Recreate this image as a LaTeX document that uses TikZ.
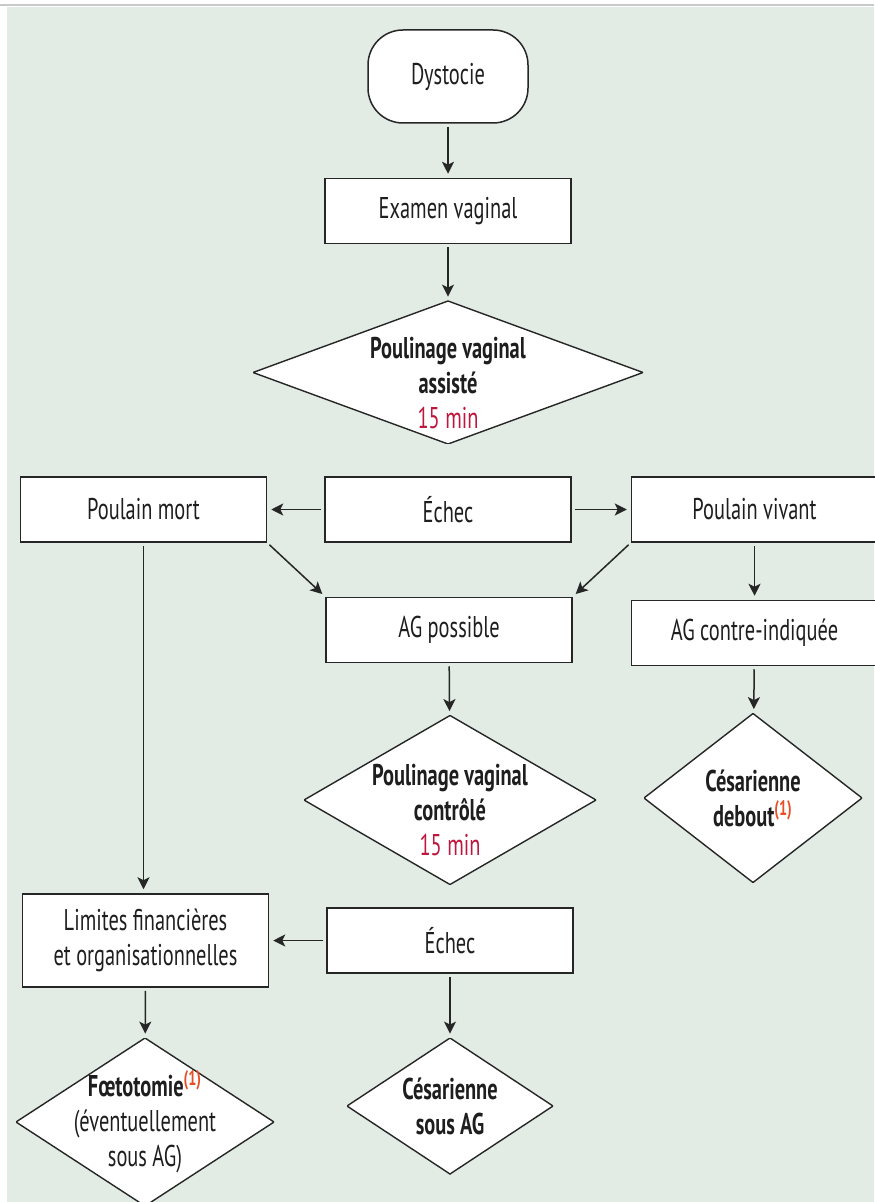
\documentclass[tikz,border=0pt]{standalone}
\usepackage{fontspec}
\setmainfont{PT Sans}[FakeStretch=0.68]
\usetikzlibrary{arrows.meta,positioning}

\definecolor{bgcol}{RGB}{226,235,228}
\definecolor{linecol}{RGB}{38,38,38}
\definecolor{textcol}{RGB}{30,30,30}
\definecolor{mincol}{RGB}{190,22,60}
\definecolor{notecol}{RGB}{232,78,36}
\definecolor{topline}{RGB}{200,200,200}

\newcommand\chartfont{\fontsize{15pt}{17.5pt}\selectfont}
\newcommand\toppad{\rule{0pt}{21pt}}

\begin{document}
\begin{tikzpicture}[
  x=0.5pt, y=-0.5pt,
  font=\chartfont,
  >={Stealth[length=6pt,width=6pt,inset=1.5pt]},
  stepbox/.style={
    draw=linecol, line width=0.75pt, fill=white, text=textcol,
    minimum width=123pt, minimum height=32.5pt,
    align=center, inner sep=2pt
  },
  startbox/.style={
    stepbox, rounded corners=17.5pt,
    minimum width=80pt, minimum height=46.5pt
  },
  decision/.style={
    rectangle, inner sep=0pt, align=center, text=textcol,
    font=\chartfont\bfseries,
    path picture={
      \filldraw[fill=white, draw=linecol, line width=0.7pt]
        (path picture bounding box.north) -- (path picture bounding box.east)
        -- (path picture bounding box.south) -- (path picture bounding box.west)
        -- cycle;}
  },
  arr/.style={->, line width=0.75pt, draw=linecol, shorten <=1.5pt, shorten >=2pt}
]

% =============================================================
% page + background
% =============================================================
\useasboundingbox (0,0) rectangle (874,1202);
\fill[bgcol] (7,7) rectangle (874,1202);
\draw[topline, line width=1pt] (0,5) -- (874,5);

% =============================================================
% main column
% =============================================================
\node[startbox] (dyst) at (448,76.5) {Dystocie};
\node[stepbox] (exam) at (448,211) {Examen vaginal};

\node[decision, minimum width=195pt, minimum height=71.5pt] (pva) at (448,372.5)
   {\toppad Poulinage vaginal\\assisté\\\mdseries\textcolor{mincol}{15 min}};

% row: outcome of assisted delivery
\node[stepbox] (echec1) at (448,509.5) {Échec};
\node[stepbox, left=28.5pt of echec1] (mort) {Poulain mort};
\node[stepbox, right=29.5pt of echec1] (vivant) {Poulain vivant};

% row: anaesthesia
\node[stepbox] (agpos) at (449,630) {AG possible};
\node[stepbox, below=28.5pt of vivant] (agci) {AG contre-indiquée};

\node[decision, minimum width=146pt, minimum height=84.5pt] (pvc) at (450,800)
   {\toppad Poulinage vaginal\\contrôlé\\\mdseries\textcolor{mincol}{15 min}};

\node[decision, minimum width=109pt, minimum height=84.5pt] (cesdeb) at (753,798)
   {Césarienne\\debout\textsuperscript{\textcolor{notecol}{(1)}}};

% bottom rows
\node[stepbox, minimum height=46.5pt] (limites) at (145.5,940.5)
   {Limites financières\\et organisationnelles};
\node[stepbox] (echec2) at (450,940.5) {Échec};

\node[decision, minimum width=129pt, minimum height=84pt] (foeto) at (145,1122)
   {Fœtotomie\textsuperscript{\textcolor{notecol}{(1)}}\\
    \mdseries(éventuellement\\\mdseries sous AG)};

\node[decision, minimum width=103pt, minimum height=68pt] (cesag) at (450,1106)
   {Césarienne\\sous AG};

% =============================================================
% arrows
% =============================================================
\draw[arr] (dyst) -- (exam);
\draw[arr] (exam) -- (pva);

\draw[arr] (echec1) -- (mort);
\draw[arr] (echec1) -- (vivant);

\draw[arr] (mort.south east) -- (agpos.north west);
\draw[arr] (vivant.south west) -- (agpos.north east);
\draw[arr] (vivant) -- (agci);

\draw[arr] (agpos) -- (pvc);
\draw[arr] (agci) -- (cesdeb);

% dead foal: straight down to the limits box
\draw[arr] (mort.south) -- (mort.south |- limites.north);

\draw[arr] (echec2) -- (limites);
\draw[arr] (limites) -- (foeto);
\draw[arr] (echec2) -- (cesag);

\end{tikzpicture}
\end{document}
